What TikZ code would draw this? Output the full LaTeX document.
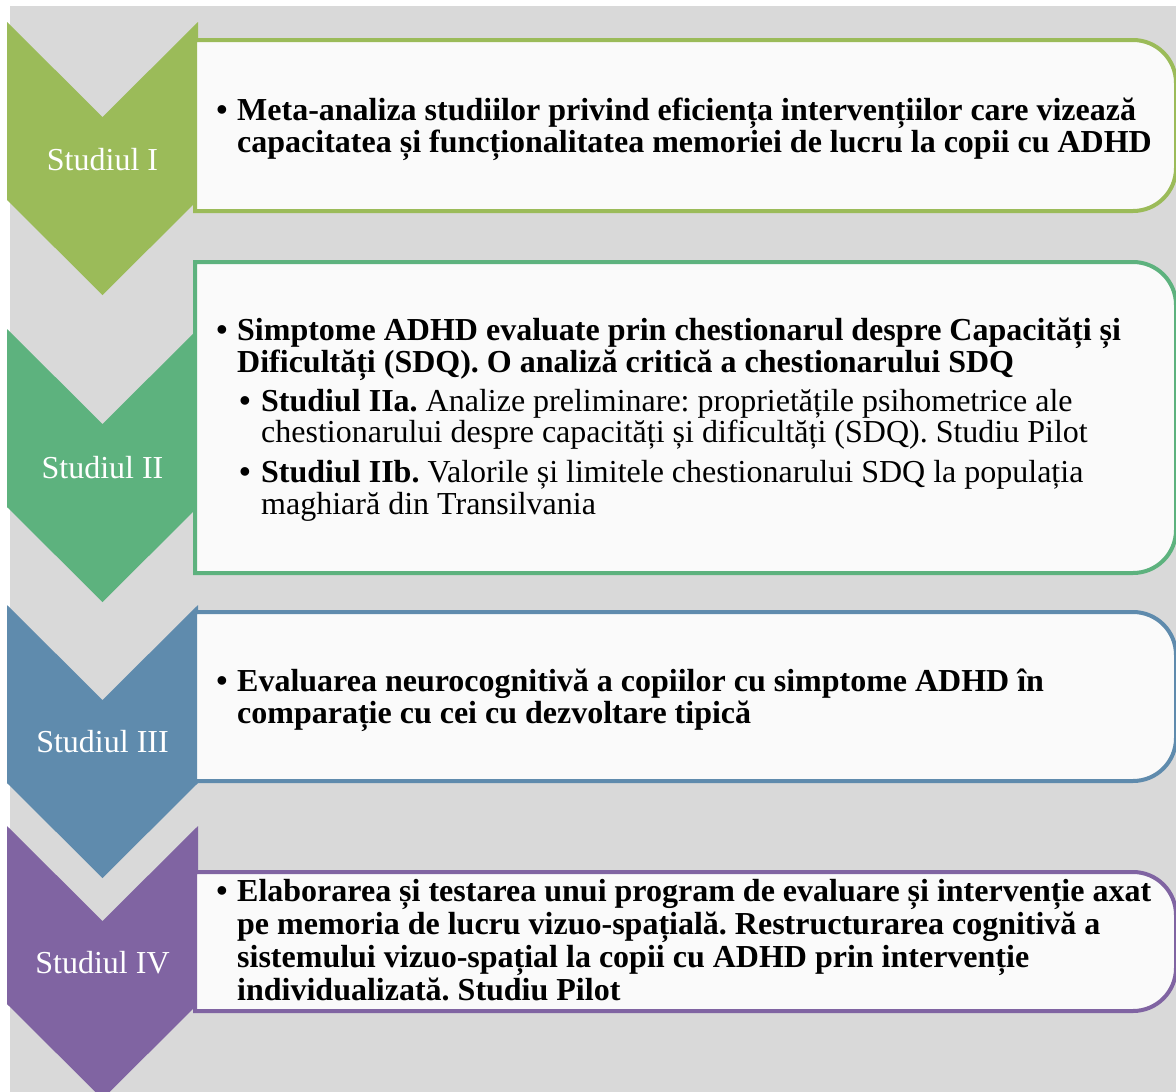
\documentclass[tikz,border=0pt]{standalone}
\usepackage{fontspec}
\setmainfont{Liberation Serif}
\frenchspacing
\definecolor{bggray}{HTML}{D9D9D9}
\definecolor{boxfill}{HTML}{FAFAFA}
\definecolor{cA}{HTML}{9BBB59}
\definecolor{cB}{HTML}{5DB27E}
\definecolor{cC}{HTML}{5F8BAD}
\definecolor{cD}{HTML}{8064A2}
\newcommand\Chev[2]{%
  \fill[#2] (7,#1) -- (102.5,#1+95) -- (198,#1) -- (198,#1+178) -- (102.5,#1+273) -- (7,#1+178) -- cycle;}
\newcommand\StBox[3]{%
  \draw[line width=4pt, draw=#3, fill=boxfill] (195,#1) -- (1133,#1) arc[start angle=90,end angle=0,radius=43pt] -- (1176,#2-43) arc[start angle=0,end angle=-90,radius=43pt] -- (195,#2) -- cycle;}
\begin{document}
\begin{tikzpicture}[x=1pt,y=-1pt,
  lbl/.style={anchor=base, text=white, inner sep=0pt, font=\fontsize{32}{36}\selectfont},
  bl/.style={anchor=base west, inner sep=0pt, font=\fontsize{32}{36}\selectfont\bfseries},
  sl/.style={anchor=base west, inner sep=0pt, font=\fontsize{32}{36}\selectfont},
  bul/.style={anchor=base, inner sep=0pt, font=\fontsize{32}{36}\selectfont\bfseries}]
\useasboundingbox (0,0) rectangle (1176,1092);
\clip (0,0) rectangle (1176,1092);
\fill[white] (0,0) rectangle (1176,1092);
\fill[bggray] (10,6) rectangle (1176,1092);
% chevrons
\Chev{22}{cA}
\Chev{329}{cB}
\Chev{605}{cC}
\Chev{826}{cD}
% boxes
\StBox{40}{211}{cA}
\StBox{262}{573}{cB}
\StBox{612}{781}{cC}
\StBox{872}{1011}{cD}
% chevron labels
\node[lbl] (s1) at (102.5,170) {Studiul I};
\node[lbl] (s2) at (102.5,478) {Studiul II};
\node[lbl] (s3) at (102.5,752) {Studiul III};
\node[lbl] (s4) at (102.5,973) {Studiul IV};
% box 1
\node[bul] (b1) at (222,120) {•};
\node[bl] (t1a) at (237,120) {Meta-analiza studiilor privind eficiența intervențiilor care vizează};
\node[bl] (t1b) at (237,152) {capacitatea și funcționalitatea memoriei de lucru la copii cu ADHD};
% box 2
\node[bul] (b2) at (222,340) {•};
\node[bl] (t2a) at (237,340) {Simptome ADHD evaluate prin chestionarul despre Capacități și};
\node[bl] (t2b) at (237,372) {Dificultăți (SDQ). O analiză critică a chestionarului SDQ};
\node[bul] (b2a) at (245,411) {•};
\node[sl] (t2c) at (261,411) {\textbf{Studiul IIa.} Analize preliminare: proprietățile psihometrice ale};
\node[sl] (t2d) at (261,442) {chestionarului despre capacități și dificultăți (SDQ). Studiu Pilot};
\node[bul] (b2b) at (245,482) {•};
\node[sl] (t2e) at (261,482) {\textbf{Studiul IIb.} Valorile și limitele chestionarului SDQ la populația};
\node[sl] (t2f) at (261,514) {maghiară din Transilvania};
% box 3
\node[bul] (b3) at (222,691) {•};
\node[bl] (t3a) at (237,691) {Evaluarea neurocognitivă a copiilor cu simptome ADHD în};
\node[bl] (t3b) at (237,723) {comparație cu cei cu dezvoltare tipică};
% box 4
\node[bul] (b4) at (222,901) {•};
\node[bl] (t4a) at (237,901) {Elaborarea și testarea unui program de evaluare și intervenție axat};
\node[bl] (t4b) at (237,934) {pe memoria de lucru vizuo-spațială. Restructurarea cognitivă a};
\node[bl] (t4c) at (237,967) {sistemului vizuo-spațial la copii cu ADHD prin intervenție};
\node[bl] (t4d) at (237,1000) {individualizată. Studiu Pilot};
\end{tikzpicture}
\end{document}
